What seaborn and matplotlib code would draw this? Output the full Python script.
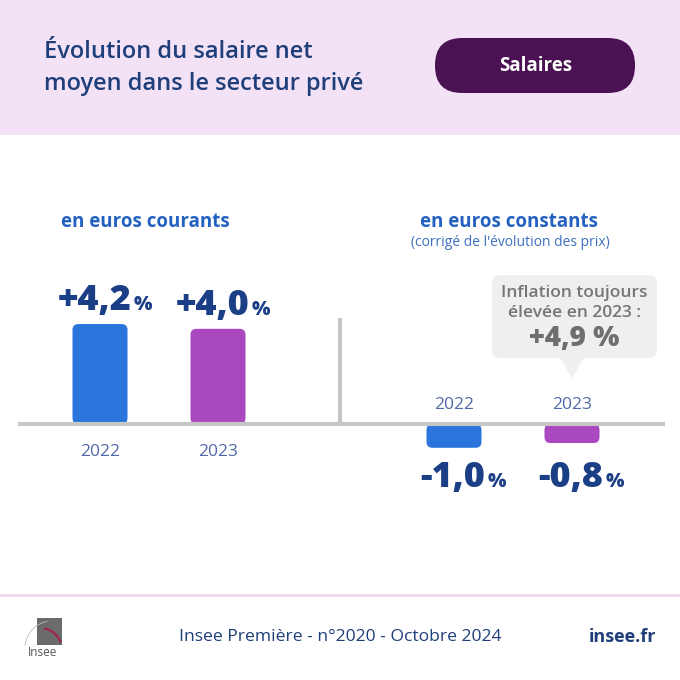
import seaborn as sns
import pandas as pd
import matplotlib.pyplot as plt
import numpy as np
from matplotlib.patches import Rectangle, FancyBboxPatch, Polygon, Arc

# data
years = ["2022", "2023"]
courants = [4.2, 4.0]      # en euros courants, %
constants = [-1.0, -0.8]   # en euros constants, %
inflation_2023 = 4.9

slots = ["c2022", "c2023", "", "k2022", "k2023"]
df = pd.DataFrame({
    "slot": ["c2022", "c2023", "k2022", "k2023"],
    "year": years + years,
    "value": courants + constants,
})

BLUE = "#2A74DC"
PURPLE = "#AA48BF"
NAVY = "#1B3F86"
TITLE_BLUE = "#1F3F7A"
SUB_BLUE = "#2462C2"
YEAR_COL = "#5168A8"
GREY_LINE = "#C6C6C6"
NUM_FONT = ["Open Sans", "DejaVu Sans"]

sns.set_theme(style="white")
plt.rcParams["font.family"] = ["Open Sans", "DejaVu Sans"]

W = H = 680
fig = plt.figure(figsize=(6.8, 6.8), dpi=100)
fig.patch.set_facecolor("white")


def fx(px):
    return px / W


def fy(py):
    return 1 - py / H


# header band
fig.patches.append(Rectangle((0, fy(135)), 1, 135 / H, transform=fig.transFigure,
                             facecolor="#F3E1F5", edgecolor="none", zorder=0))
fig.text(fx(44), fy(52), "Évolution du salaire net", color=TITLE_BLUE, fontsize=17,
         fontweight="semibold", va="center", ha="left")
fig.text(fx(44), fy(84), "moyen dans le secteur privé", color=TITLE_BLUE, fontsize=17,
         fontweight="semibold", va="center", ha="left")
fig.patches.append(FancyBboxPatch((fx(435), fy(93)), fx(200), 55 / H,
                                  boxstyle="round,pad=0,rounding_size=0.04",
                                  transform=fig.transFigure, facecolor="#4A1252",
                                  edgecolor="none", zorder=1))
fig.text(fx(536), fy(66), "Salaires", color="white", fontsize=13.5, fontweight="bold",
         va="center", ha="center", zorder=2)

# chart axes, in pixel frame: x 18..665, y 140..590, baseline at 424
step = 118.0
unit = 23.8
ax = fig.add_axes([fx(18), fy(590), fx(665 - 18), (590 - 140) / H])

sns.barplot(data=df, x="slot", y="value", hue="year", order=slots,
            palette=[BLUE, PURPLE], dodge=False, width=0.466, legend=False,
            saturation=1, ax=ax, zorder=2)
ax.set_xlim((18 - 100) / step, (665 - 100) / step)
ax.set_ylim(-(590 - 424) / unit, (424 - 140) / unit)

# rounded bar corners
for p in list(ax.patches):
    if not isinstance(p, Rectangle) or np.isnan(p.get_height()):
        continue
    x0, y0, w, h = p.get_x(), p.get_y(), p.get_width(), p.get_height()
    col = p.get_facecolor()
    p.remove()
    ax.add_patch(FancyBboxPatch((x0, min(y0, y0 + h)), w, abs(h),
                                boxstyle="round,pad=0,rounding_size=0.05",
                                mutation_aspect=step / unit, facecolor=col,
                                edgecolor="none", zorder=2))

ax.axis("off")
ax.axhline(0, color=GREY_LINE, lw=3, zorder=3)
ax.plot([(340 - 100) / step] * 2, [0, (424 - 318) / unit], color=GREY_LINE,
        lw=3, solid_capstyle="butt", zorder=3)


def fmt(v):
    return f"{v:+.1f}".replace(".", ",")


neg_label_y = -(487 - 424) / unit
for _, r in df.iterrows():
    pos = slots.index(r["slot"])
    v = r["value"]
    if v >= 0:
        ty = v + 0.6
        ax.text(pos, -1.18, r["year"], ha="center", va="center", color=YEAR_COL,
                fontsize=12.5)
    else:
        ty = neg_label_y
        ax.text(pos, 0.8, r["year"], ha="center", va="center", color=YEAR_COL,
                fontsize=12.5)
    ax.text(pos + 0.265, ty, fmt(v), ha="right", va="baseline", color=NAVY,
            fontsize=26, fontweight="heavy", family=NUM_FONT)
    ax.text(pos + 0.285, ty, "%", ha="left", va="baseline", color=NAVY,
            fontsize=14, fontweight="heavy", family=NUM_FONT)

# panel titles
fig.text(fx(145), fy(222), "en euros courants", color=SUB_BLUE, fontsize=13.5,
         fontweight="bold", ha="center", va="center")
fig.text(fx(509), fy(222), "en euros constants", color=SUB_BLUE, fontsize=13.5,
         fontweight="bold", ha="center", va="center")
fig.text(fx(510), fy(242), "(corrigé de l'évolution des prix)", color="#3D6FC0",
         fontsize=10, ha="center", va="center")

# inflation callout
bx0, bx1 = (492 - 100) / step, (657 - 100) / step
by0, by1 = (424 - 358) / unit, (424 - 275) / unit
ax.add_patch(FancyBboxPatch((bx0, by0), bx1 - bx0, by1 - by0,
                            boxstyle="round,pad=0,rounding_size=0.07",
                            mutation_aspect=step / unit, facecolor="#EFEFEF",
                            edgecolor="none", zorder=1))
tipx = slots.index("k2023")
ax.add_patch(Polygon([[tipx - 0.1, by0], [tipx + 0.1, by0], [tipx, (424 - 378) / unit]],
                     closed=True, facecolor="#EFEFEF", edgecolor="none", zorder=1))
ax.text(tipx + 0.02, (424 - 293) / unit, "Inflation toujours", ha="center", va="center",
        color="#767676", fontsize=12.5, fontweight="semibold")
ax.text(tipx + 0.02, (424 - 313) / unit, "élevée en 2023 :", ha="center", va="center",
        color="#767676", fontsize=12.5, fontweight="semibold")
ax.text(tipx + 0.02, (424 - 338) / unit, fmt(inflation_2023) + " %", ha="center",
        va="center", color="#6E6E6E", fontsize=20, fontweight="heavy")

# footer
fig.add_artist(plt.Line2D([0, 1], [fy(595), fy(595)], color="#F0D8F2", lw=2,
                          transform=fig.transFigure))
fig.text(fx(340), fy(637), "Insee Première - n°2020 - Octobre 2024", color=TITLE_BLUE,
         fontsize=12.6, ha="center", va="center")
fig.text(fx(622), fy(637), "insee.fr", color=TITLE_BLUE, fontsize=13,
         fontweight="bold", ha="center", va="center")

# logo
fig.patches.append(Rectangle((fx(37), fy(645)), fx(25), 27 / H, transform=fig.transFigure,
                             facecolor="#6B6B6B", edgecolor="none"))
fig.patches.append(Arc((fx(40), fy(650)), fx(44), 44 / H, theta1=20, theta2=80,
                       transform=fig.transFigure, color="#A0234A", lw=1.5))
fig.patches.append(Arc((fx(52), fy(648)), fx(54), 54 / H, theta1=100, theta2=175,
                       transform=fig.transFigure, color="#BBBBBB", lw=0.6))
fig.text(fx(43), fy(653), "Insee", color="#555555", fontsize=8.5, ha="center",
         va="center")

fig.savefig("out.png", dpi=100, facecolor=fig.get_facecolor())
